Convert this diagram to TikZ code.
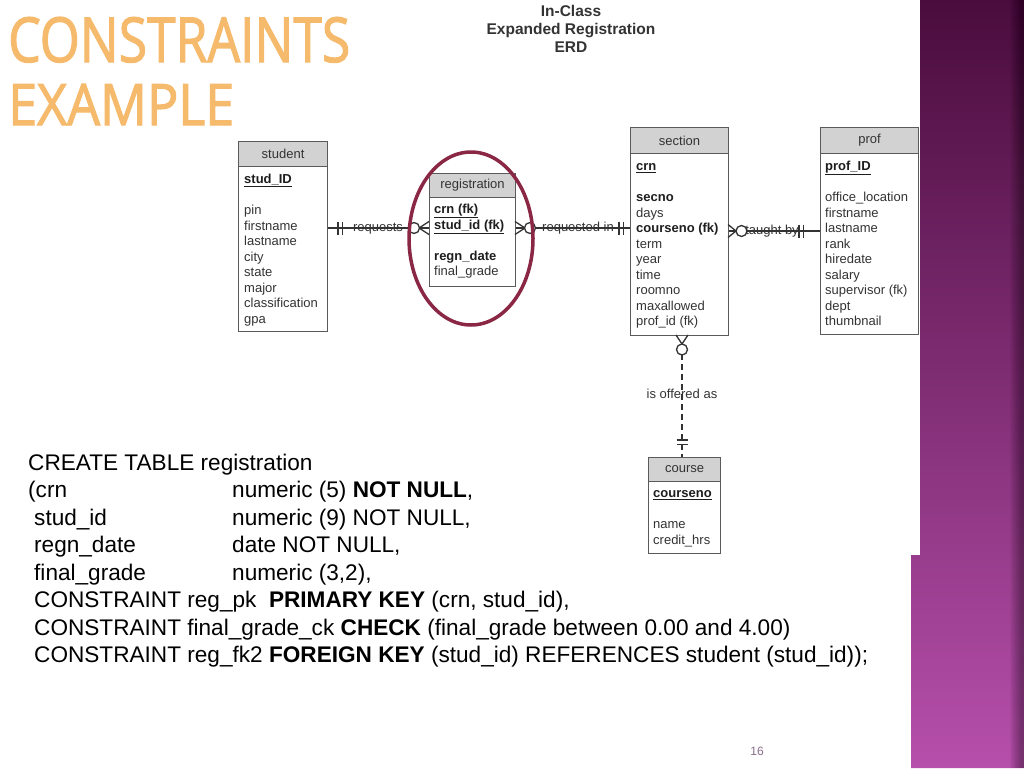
\documentclass[tikz,border=0pt]{standalone}
\usepackage{fontspec}
\setmainfont{Liberation Sans}
\newfontfamily\titlefont[FakeBold=2]{Open Sans}
\definecolor{boxc}{HTML}{5A5A5A}
\definecolor{hdrc}{HTML}{D2D2D2}
\definecolor{txtc}{HTML}{333333}
\definecolor{keyc}{HTML}{1E1E1E}
\definecolor{ringc}{HTML}{8A2744}
\definecolor{titlec}{HTML}{F5BA6C}
\definecolor{pTop}{HTML}{4A0C3D}
\definecolor{pMid}{HTML}{7F2E73}
\definecolor{pBot}{HTML}{B64FAB}
\definecolor{pnumc}{HTML}{8B6D8B}
\newcommand\tabfont{\fontsize{13pt}{15pt}\selectfont}
\newcommand\codefont{\fontsize{22.6pt}{26pt}\selectfont}
\newcommand\kf[1]{\textcolor{keyc}{\textbf{\underline{#1}}}}
\newcommand\bfd[1]{\textcolor{keyc}{\textbf{#1}}}
\begin{document}
\begin{tikzpicture}[x=1pt,y=-1pt,
  hdr/.style={draw=boxc, fill=hdrc, line width=1.1pt, text=txtc, font=\tabfont, inner sep=0pt, anchor=north west},
  bdy/.style={draw=boxc, fill=white, line width=1.1pt, inner sep=0pt, anchor=north west},
  fld/.style={anchor=base west, inner sep=0pt, text=txtc, font=\tabfont},
  lbl/.style={anchor=base, inner sep=0pt, text=txtc, font=\tabfont},
  conn/.style={draw=txtc, line width=1.3pt},
  code/.style={anchor=base west, inner sep=0pt, font=\codefont}]
\useasboundingbox (0,0) rectangle (1024,768);
\fill[white] (0,0) rectangle (1024,768);

% purple side bar
\shade[top color=pTop, middle color=pMid, bottom color=pBot]
  (920,0) -- (1024,0) -- (1024,768) -- (911,768) -- (911,555) -- (920,555) -- cycle;
\foreach \j in {0,...,11}
  \fill[black, opacity=0.03] (1010+\j,0) rectangle (1024,768);

% title
\node[anchor=base west, inner sep=0pt, text=titlec] (t1) at (8,62)
  {\resizebox{342pt}{45pt}{\titlefont CONSTRAINTS}};
\node[anchor=base west, inner sep=0pt, text=titlec] (t2) at (8,125)
  {\resizebox{226pt}{41pt}{\titlefont EXAMPLE}};

% ERD title
\node[anchor=base, inner sep=0pt, font=\fontsize{15.5pt}{18pt}\selectfont\bfseries, text=txtc] (e1) at (571,16.5) {In-Class};
\node[anchor=base, inner sep=0pt, font=\fontsize{15.5pt}{18pt}\selectfont\bfseries, text=txtc] (e2) at (571,34.5) {Expanded Registration};
\node[anchor=base, inner sep=0pt, font=\fontsize{15.5pt}{18pt}\selectfont\bfseries, text=txtc] (e3) at (571,52.5) {ERD};

% student
\node[hdr, minimum width=89pt, minimum height=25pt] (stuH) at (238,141) {student};
\node[bdy, minimum width=89pt, minimum height=165pt] (stuB) at (238,166) {};
\foreach \k/\t [count=\i] in {0/\kf{stud\_ID},2/pin,3/firstname,4/lastname,5/city,6/state,7/major,8/classification,9/gpa}
  \node[fld] (stu\i) at (244,183.5+15.5*\k) {\t};

% registration
\node[hdr, minimum width=86pt, minimum height=24pt] (regH) at (429,173) {registration};
\node[bdy, minimum width=86pt, minimum height=89pt] (regB) at (429,197) {};
\foreach \k/\t [count=\i] in {0/\kf{crn (fk)},1/\kf{stud\_id (fk)},3/\bfd{regn\_date},4/final\_grade}
  \node[fld] (reg\i) at (434,213.5+15.5*\k) {\t};

% section
\node[hdr, minimum width=98pt, minimum height=26pt] (secH) at (630,127) {section};
\node[bdy, minimum width=98pt, minimum height=182pt] (secB) at (630,153) {};
\foreach \k/\t [count=\i] in {0/\kf{crn},2/\bfd{secno},3/days,4/\bfd{courseno (fk)},5/term,6/year,7/time,8/roomno,9/maxallowed,10/prof\_id (fk)}
  \node[fld] (sec\i) at (636,170.5+15.5*\k) {\t};

% prof
\node[hdr, minimum width=98pt, minimum height=26pt] (proH) at (820,127) {prof};
\node[bdy, minimum width=98pt, minimum height=181pt] (proB) at (820,153) {};
\foreach \k/\t [count=\i] in {0/\kf{prof\_ID},2/office\_location,3/firstname,4/lastname,5/rank,6/hiredate,7/salary,8/supervisor (fk),9/dept,10/thumbnail}
  \node[fld] (pro\i) at (825,170.5+15.5*\k) {\t};

% course
\node[hdr, minimum width=72pt, minimum height=24pt] (couH) at (648,457) {course};
\node[bdy, minimum width=72pt, minimum height=72pt] (couB) at (648,481) {};
\foreach \k/\t [count=\i] in {0/\kf{courseno},2/name,3/credit\_hrs}
  \node[fld] (cou\i) at (653,497.5+15.5*\k) {\t};

% relationships
\coordinate (yA) at (0,228);
\coordinate (yB) at (0,231);
\coordinate (cA) at (682,354);
% student - registration
\draw[conn] (stuB.east |- yA) -- (regB.west |- yA);
\draw[conn] (338,221.5) -- (338,234.5) (342.5,221.5) -- (342.5,234.5);
\node[lbl] (l1) at (378,231.5) {requests};
\draw[conn] (419,228) -- (429,221.5) (419,228) -- (429,234.5);
\draw[conn, fill=white] (414,228) circle (5.5pt);
% registration - section
\draw[conn] (regB.east |- yA) -- (secB.west |- yA);
\draw[conn] (515,221.5) -- (525,228) -- (515,234.5);
\draw[conn, fill=white] (530,228) circle (5.5pt);
\node[lbl] (l2) at (578,231.5) {requested in};
\draw[conn] (619,221.5) -- (619,234.5) (623.5,221.5) -- (623.5,234.5);
% section - prof
\draw[conn] (secB.east |- yB) -- (proB.west |- yB);
\draw[conn] (728,224.5) -- (736,231) -- (728,237.5);
\draw[conn, fill=white] (741.5,231) circle (5.5pt);
\node[lbl] (l3) at (772,234.5) {taught by};
\draw[conn] (799,224.5) -- (799,237.5) (803.5,224.5) -- (803.5,237.5);
% section - course
\draw[conn, dash pattern=on 6pt off 4pt] (cA) -- (cA |- couH.north);
\draw[conn] (676,335) -- (682,344) -- (688,335);
\draw[conn, fill=white] (682,349.5) circle (5.5pt);
\draw[conn] (676.5,440) -- (687.5,440) (676.5,444.5) -- (687.5,444.5);
\node[lbl] (l4) at (682,398.5) {is offered as};

% highlight ring
\draw[ringc, line width=3.5pt] (471,238.5) ellipse (62pt and 86.5pt);

% SQL text
\node[code] (c1) at (28,470) {CREATE TABLE registration};
\node[code] (c2) at (28,497.5) {(crn};
\node[code] (c2b) at (232,497.5) {numeric (5) \textbf{NOT NULL},};
\node[code] (c3) at (34,525) {stud\_id};
\node[code] (c3b) at (232,525) {numeric (9) NOT NULL,};
\node[code] (c4) at (34,552.5) {regn\_date};
\node[code] (c4b) at (232,552.5) {date NOT NULL,};
\node[code] (c5) at (34,580) {final\_grade};
\node[code] (c5b) at (232,580) {numeric (3,2),};
\node[code] (c6) at (34,607.5) {CONSTRAINT reg\_pk\ \ \textbf{PRIMARY KEY} (crn, stud\_id),};
\node[code] (c7) at (34,635) {CONSTRAINT final\_grade\_ck \textbf{CHECK} (final\_grade between 0.00 and 4.00)};
\node[code] (c8) at (34,662.5) {CONSTRAINT reg\_fk2 \textbf{FOREIGN KEY} (stud\_id) REFERENCES student (stud\_id));};

% page number
\node[anchor=base, inner sep=0pt, font=\fontsize{12pt}{14pt}\selectfont, text=pnumc] (pn) at (757,755.5) {16};
\end{tikzpicture}
\end{document}
